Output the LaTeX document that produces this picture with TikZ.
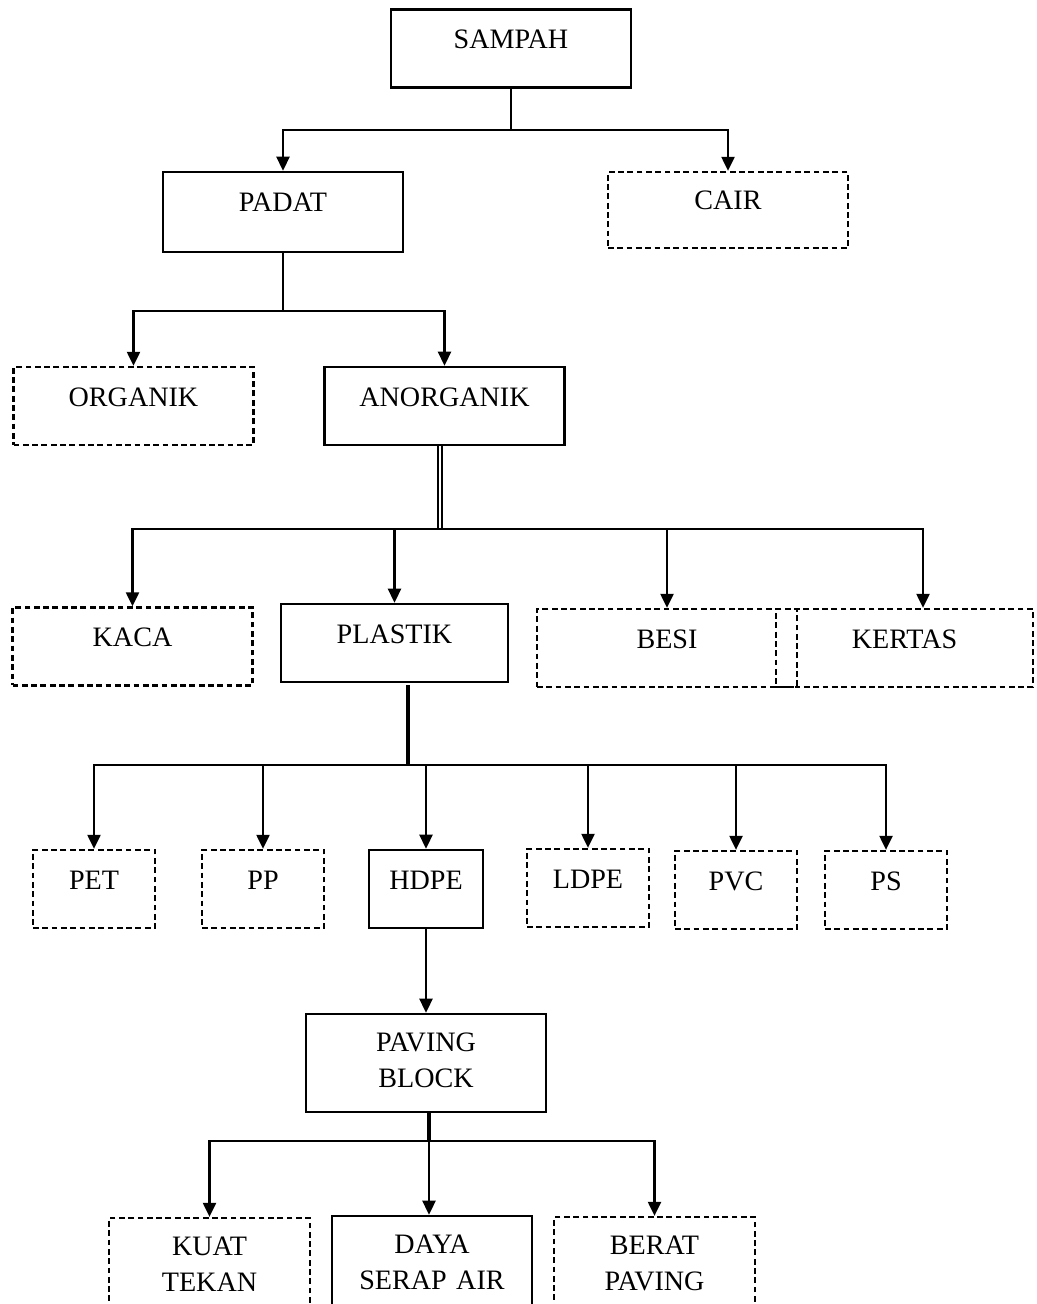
\documentclass[tikz,border=0pt]{standalone}
\usepackage{fontspec}
\setmainfont{Liberation Serif}
\usetikzlibrary{arrows.meta}
\newcommand{\boxfont}{\fontsize{16}{20.5}\selectfont}
\tikzset{
  pathbox/.style ={rectangle, draw=black, line width=1.4pt, inner sep=2pt,
                   minimum width=4.8cm, minimum height=1.56cm,
                   text height=10pt, text depth=10pt, font=\boxfont},
  altbox/.style  ={pathbox, line width=1.3pt, dash pattern=on 3.3pt off 2pt},
  twoline/.style ={text width=3.4cm, align=center, text depth=23.6pt, minimum height=1.96cm},
  flow/.style    ={-{Triangle[length=8pt, width=7.4pt]}, line width=1.3pt},
  trunk/.style   ={line width=1.3pt},
  thicktrunk/.style={line width=2pt},
  dbltrunk/.style={double, double distance=1.6pt, line width=1.1pt},
}
\begin{document}
\begin{tikzpicture}[x=0.02cm, y=-0.02cm]
    \useasboundingbox (0,0) rectangle (1037,1304);
    \node[pathbox] (sampah) at (511,48.5) {SAMPAH};
    \node[pathbox, minimum height=1.6cm] (padat) at (283,212) {PADAT};
    \node[altbox, minimum height=1.52cm] (cair) at (728,210) {CAIR};
    \node[altbox] (organik) at (133.5,406) {ORGANIK};
    \node[pathbox] (anorganik) at (444.5,406) {ANORGANIK};
    \node[altbox] (kaca) at (132.5,646.5) {KACA};
    \node[pathbox, minimum width=4.54cm] (plastik) at (394.5,643) {PLASTIK};
    \node[altbox, minimum width=5.2cm] (besi) at (667,648) {BESI};
    \node[altbox, minimum width=5.14cm] (kertas) at (904.5,648) {KERTAS};
    \node[altbox, minimum width=2.44cm] (pet) at (94,889) {PET};
    \node[altbox, minimum width=2.44cm] (pp) at (263,889) {PP};
    \node[pathbox, minimum width=2.28cm] (hdpe) at (426,889) {HDPE};
    \node[altbox, minimum width=2.44cm] (ldpe) at (588,888) {LDPE};
    \node[altbox, minimum width=2.44cm] (pvc) at (736,890) {PVC};
    \node[altbox, minimum width=2.44cm] (ps) at (886,890) {PS};
    \node[pathbox, twoline] (paving) at (426,1063) {PAVING\\BLOCK};
    \node[altbox, twoline, minimum width=4.02cm] (kuat) at (209.5,1267) {KUAT\\TEKAN};
    \node[pathbox, twoline, minimum width=4cm] (daya) at (432,1265) {DAYA\\SERAP AIR};
    \node[altbox, twoline, minimum width=4.02cm] (berat) at (654.5,1266) {BERAT\\PAVING};
    % junctions
    \coordinate (j1) at (511,130);
    \coordinate (j2) at (283,311);
    \coordinate (j3) at (440,529);
    \coordinate (j4) at (408,765);
    \coordinate (j5) at (429,1141);
    \draw[trunk] (sampah) -- (j1);
    \draw[flow] (j1) -| (padat);
    \draw[flow] (j1) -| (cair);
    \draw[trunk] (padat) -- (j2);
    \draw[flow] (j2) -| (organik);
    \draw[flow] (j2) -| (anorganik);
    \draw[dbltrunk] (anorganik.south -| j3) -- (j3);
    \draw[flow] (j3) -| (kaca);
    \draw[flow] (j3) -| (plastik);
    \draw[flow] (j3) -| (besi);
    \draw[flow] (j3) -| ([xshift=0.37cm]kertas.north);
    \draw[thicktrunk] ([yshift=-0.04cm]plastik.south -| j4) -- (j4);
    \draw[flow] (j4) -| (pet);
    \draw[flow] (j4) -| (pp);
    \draw[flow] (j4) -| (hdpe);
    \draw[flow] (j4) -| (ldpe);
    \draw[flow] (j4) -| (pvc);
    \draw[flow] (j4) -| (ps);
    \draw[flow] (hdpe) -- (paving);
    \draw[thicktrunk] (paving.south -| j5) -- (j5);
    \draw[flow] (j5) -| (kuat);
    \draw[flow] (j5) -- (j5 |- daya.north);
    \draw[flow] (j5) -| (berat);
\end{tikzpicture}
\end{document}
